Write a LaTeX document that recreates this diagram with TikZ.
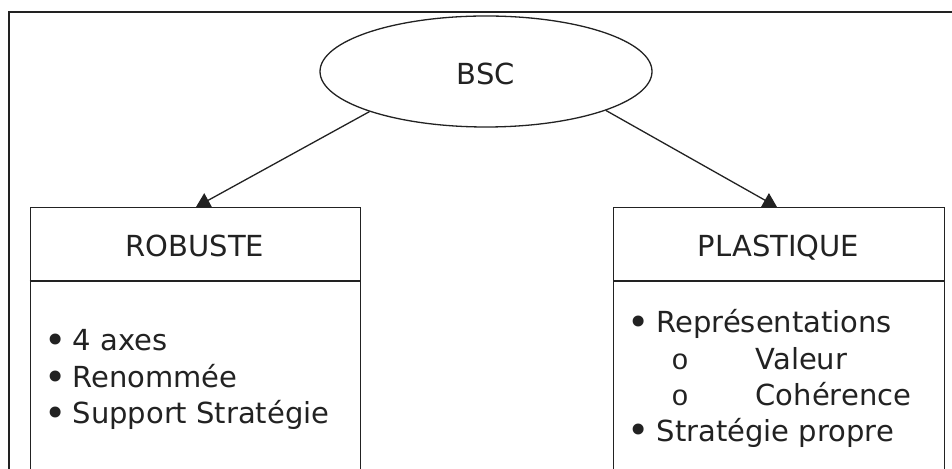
\documentclass[tikz,border=0pt]{standalone}
\usepackage{fontspec}
\setmainfont{DejaVu Sans}
\newfontfamily\ringfont{Liberation Mono}
\usetikzlibrary{arrows.meta,shapes.geometric}
\definecolor{ink}{HTML}{222222}
\newcommand{\bigbul}{\scalebox{1.3}{•}}
\begin{document}
\begin{tikzpicture}[x=1pt,y=1pt,
  line width=1.3pt, draw=ink,
  txt/.style={inner sep=0pt, text=ink, font=\fontsize{29}{35}\selectfont},
  boxshape/.style={draw=ink, line width=1.3pt, inner sep=0pt, anchor=north west},
  conn/.style={draw=ink, line width=1.3pt, -{Triangle[length=13.9pt,width=16pt]}},
]
\useasboundingbox (0,0) rectangle (952,468);
\clip (0,0) rectangle (952,468);
\fill[white] (0,0) rectangle (952,468);
% outer frame
\draw[ink] (9,-30) rectangle (990,456);
% root
\node[ellipse, draw=ink, line width=1.3pt, minimum width=332pt, minimum height=111pt, inner sep=0pt] (bsc) at (486,396.5) {};
\node[txt, anchor=base] (bsclabel) at (486,383) {BSC};
% boxes
\node[boxshape, minimum width=330.5pt, minimum height=300pt] (robuste) at (29.5,261) {};
\node[boxshape, minimum width=331pt, minimum height=300pt] (plastique) at (613,261) {};
\draw[ink] (29.5,187) -- (360,187);
\draw[ink] (613,187) -- (944,187);
\node[txt, anchor=base] (robtitle) at (195,211) {ROBUSTE};
\node[txt, anchor=base] (plastitle) at (778.5,211) {PLASTIQUE};
% connectors
\coordinate (ltip) at (196,261);
\coordinate (rtip) at (777,261);
\draw[conn] (bsc.199) -- (ltip);
\draw[conn] (bsc.-18.5) -- (rtip);
% left list
\node[txt, anchor=base] (lb1) at (56,114.5) {\bigbul};
\node[txt, anchor=base west] (li1) at (72,117) {4 axes};
\node[txt, anchor=base] (lb2) at (56,77.5) {\bigbul};
\node[txt, anchor=base west] (li2) at (72,80) {Renommée};
\node[txt, anchor=base] (lb3) at (56,41.5) {\bigbul};
\node[txt, anchor=base west] (li3) at (72,44) {Support Stratégie};
% right list
\node[txt, anchor=base] (rb1) at (639,132.5) {\bigbul};
\node[txt, anchor=base west] (ri1) at (656,135) {Représentations};
\node[txt, anchor=base] (rs1) at (680,98) {\ringfont o};
\node[txt, anchor=base west] (ri2) at (755,98) {Valeur};
\node[txt, anchor=base] (rs2) at (680,62) {\ringfont o};
\node[txt, anchor=base west] (ri3) at (755,62) {Cohérence};
\node[txt, anchor=base] (rb2) at (639,24.5) {\bigbul};
\node[txt, anchor=base west] (ri4) at (656,27) {Stratégie propre};
\end{tikzpicture}
\end{document}
